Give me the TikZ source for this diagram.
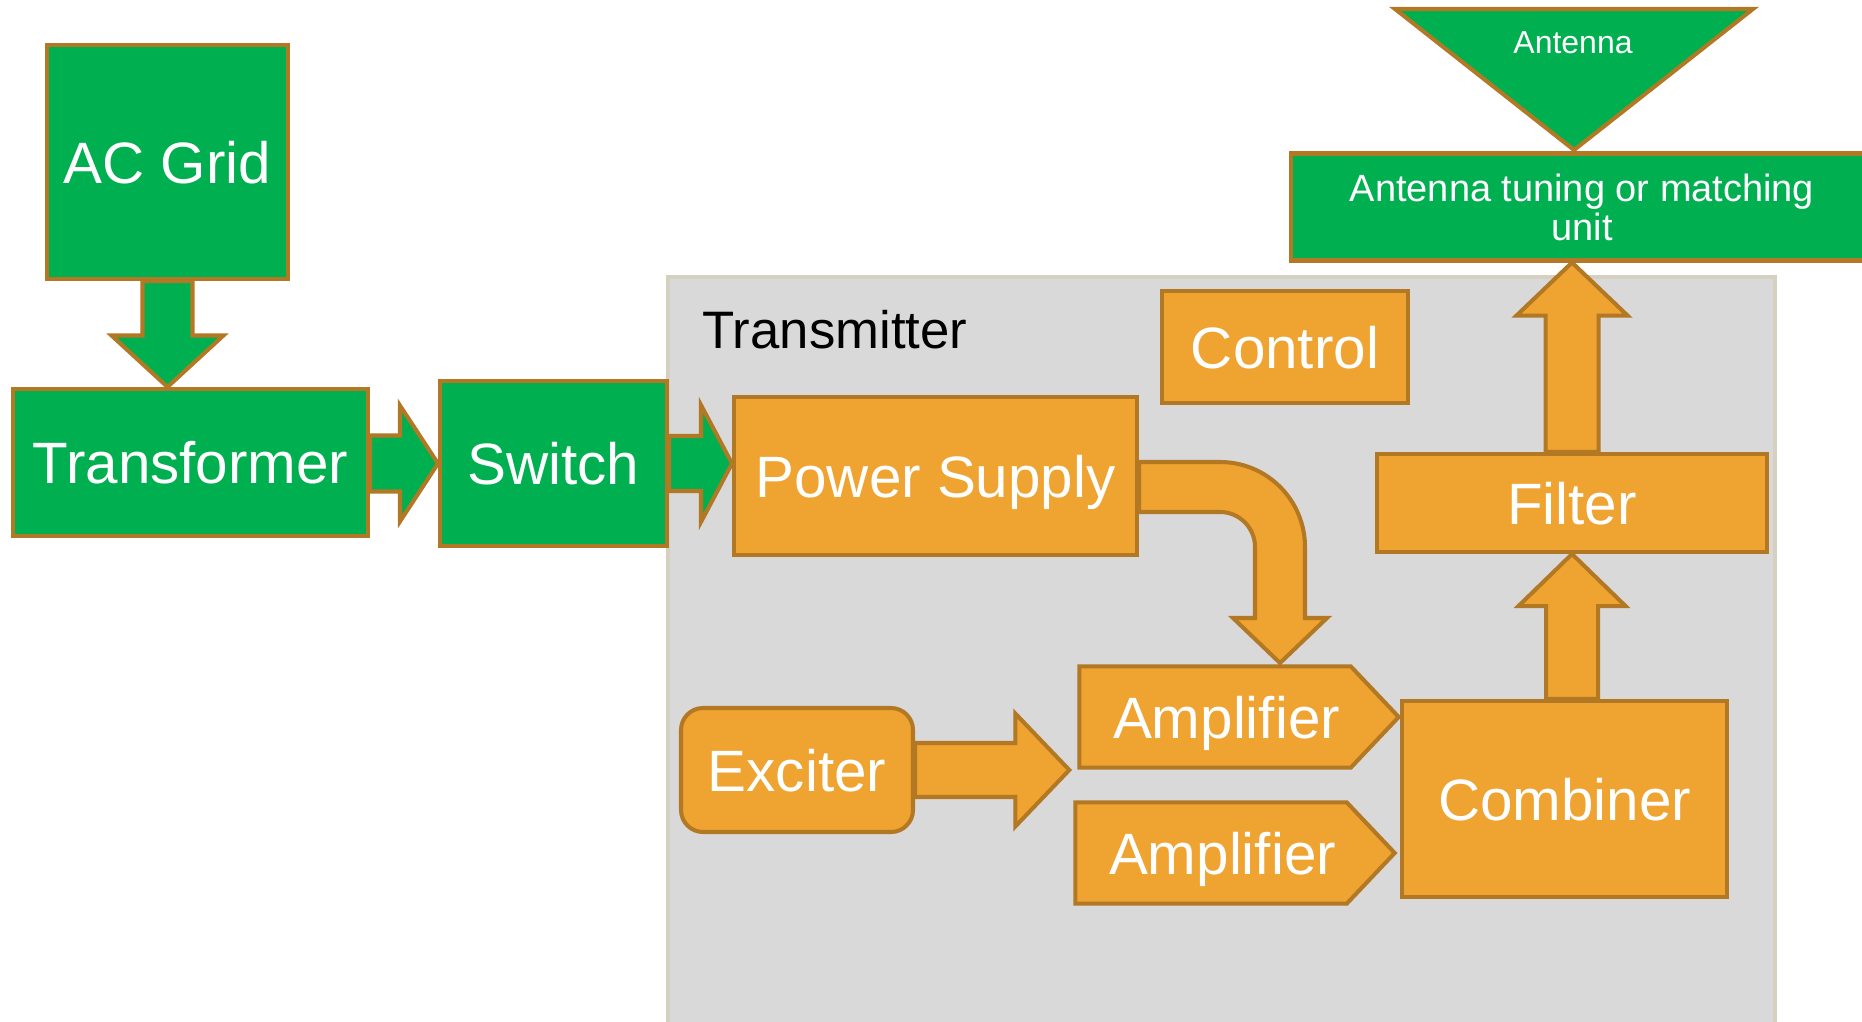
\documentclass[tikz,border=0pt]{standalone}
\usepackage{fontspec}
\setmainfont{Liberation Sans}
\usetikzlibrary{calc,backgrounds}

\definecolor{leaf}{RGB}{0,176,80}
\definecolor{amber}{RGB}{239,163,48}
\definecolor{rim}{RGB}{178,120,36}
\definecolor{panel}{RGB}{217,217,217}
\definecolor{panelrim}{RGB}{214,208,192}

% block arrows: start anchor, tip, shaft half width, head half width, head length, fill
\newcommand{\rarrow}[6]{%
  \draw[blockarrow=#6] let \p1=(#1), \p2=(#2) in
    (\x1,\y2+#3) -- (\x2-#5,\y2+#3) -- (\x2-#5,\y2+#4) -- (\p2)
    -- (\x2-#5,\y2-#4) -- (\x2-#5,\y2-#3) -- (\x1,\y2-#3) -- cycle;}
\newcommand{\uarrow}[6]{%
  \draw[blockarrow=#6] let \p1=(#1), \p2=(#2) in
    (\x2-#3,\y1) -- (\x2-#3,\y2-#5) -- (\x2-#4,\y2-#5) -- (\p2)
    -- (\x2+#4,\y2-#5) -- (\x2+#3,\y2-#5) -- (\x2+#3,\y1) -- cycle;}
\newcommand{\darrow}[6]{%
  \draw[blockarrow=#6] let \p1=(#1), \p2=(#2) in
    (\x2-#3,\y1) -- (\x2-#3,\y2+#5) -- (\x2-#4,\y2+#5) -- (\p2)
    -- (\x2+#4,\y2+#5) -- (\x2+#3,\y2+#5) -- (\x2+#3,\y1) -- cycle;}
% pentagon behind an amplifier node
\newcommand{\ampoutline}[1]{%
  \draw[blockarrow=amber] (#1.north west) -- ($(#1.north east)+(-0.48,0)$) -- (#1.east)
    -- ($(#1.south east)+(-0.48,0)$) -- (#1.south west) -- cycle;}

\begin{document}
\begin{tikzpicture}[
  every node/.style={font=\fontsize{16.6}{20}\selectfont, text=white},
  box/.style={draw=rim, line width=1.15pt, inner sep=0pt, text height=12pt, text depth=0pt},
  greenbox/.style={box, fill=leaf},
  orangebox/.style={box, fill=amber},
  ampbox/.style={inner sep=0pt, text height=12pt, text depth=0pt, minimum width=3.18cm, minimum height=1cm,
    execute at end node=\hspace{0.25cm}},
  blockarrow/.style={draw=rim, line width=1.15pt, fill=#1}]
  \useasboundingbox (0,0) rectangle (18.62,-10.22);

  % supply side
  \node[greenbox, minimum width=2.41cm, minimum height=2.34cm] (acgrid) at (1.675,-1.62) {AC Grid};
  \node[greenbox, minimum width=3.55cm, minimum height=1.47cm] (trans) at (1.905,-4.625) {Transformer};
  \node[greenbox, minimum width=2.27cm, minimum height=1.65cm] (switch) at (5.535,-4.635) {Switch};

  % inside the transmitter
  \node[anchor=base west, inner sep=0pt, text=black, font=\fontsize{15}{18}\selectfont] (title) at (7.02,-3.48) {Transmitter};
  \node[orangebox, minimum width=4.03cm, minimum height=1.58cm] (ps) at (9.355,-4.76) {Power Supply};
  \node[orangebox, minimum width=2.46cm, minimum height=1.12cm] (control) at (12.85,-3.47) {Control};
  \node[orangebox, rounded corners=0.22cm, minimum width=2.32cm, minimum height=1.24cm] (exciter) at (7.97,-7.70) {Exciter};
  \node[ampbox] (amp1) at (12.39,-7.17) {Amplifier};
  \node[ampbox] (amp2) at (12.35,-8.53) {Amplifier};
  \node[orangebox, minimum width=3.25cm, minimum height=1.96cm] (combiner) at (15.645,-7.99) {Combiner};
  \node[orangebox, minimum width=3.90cm, minimum height=0.98cm] (filter) at (15.72,-5.03) {Filter};
  \begin{scope}[on background layer]
    \draw[panelrim, fill=panel, line width=1pt] (6.68,-2.77) rectangle (17.75,-10.5);
    \ampoutline{amp1}
    \ampoutline{amp2}
  \end{scope}

  % antenna side
  \node[draw=rim, fill=leaf, line width=1.15pt, align=center, minimum width=5.82cm, minimum height=1.07cm,
    font=\fontsize{10.8}{11.1}\selectfont] (atu) at (15.82,-2.07) {Antenna tuning or matching\\unit};
  \draw[draw=rim, fill=leaf, line width=1.15pt] (13.95,-0.09) -- (17.53,-0.09) -- (15.74,-1.50) -- cycle;
  \node[anchor=base, font=\fontsize{9.1}{11}\selectfont] (antenna) at (15.73,-0.54) {Antenna};

  \coordinate (amptip) at ($(amp1.west |- exciter.east)+(-0.1,0)$);
  \coordinate (bendtip) at (12.80,-6.63);

  \darrow{acgrid.south}{acgrid.south |- trans.north}{0.25cm}{0.56cm}{0.515cm}{leaf}
  \rarrow{trans.east}{switch.west}{0.28cm}{0.58cm}{0.38cm}{leaf}
  \rarrow{switch.east}{ps.west |- switch.east}{0.275cm}{0.585cm}{0.31cm}{leaf}
  \rarrow{exciter.east}{amptip}{0.27cm}{0.565cm}{0.54cm}{amber}
  \uarrow{combiner.north}{filter.south}{0.26cm}{0.535cm}{0.52cm}{amber}
  \uarrow{filter.north}{filter.north |- atu.south}{0.265cm}{0.555cm}{0.53cm}{amber}
  \draw[blockarrow=amber] let \p1=(ps.east) in
    (\x1,-4.62) -- (12.20,-4.62) arc[start angle=90, end angle=0, radius=0.85]
    -- (13.05,-6.18) -- (13.27,-6.18) -- (bendtip) -- (12.33,-6.18) -- (12.55,-6.18)
    -- (12.55,-5.47) arc[start angle=0, end angle=90, radius=0.35] -- (\x1,-5.12) -- cycle;
\end{tikzpicture}
\end{document}
